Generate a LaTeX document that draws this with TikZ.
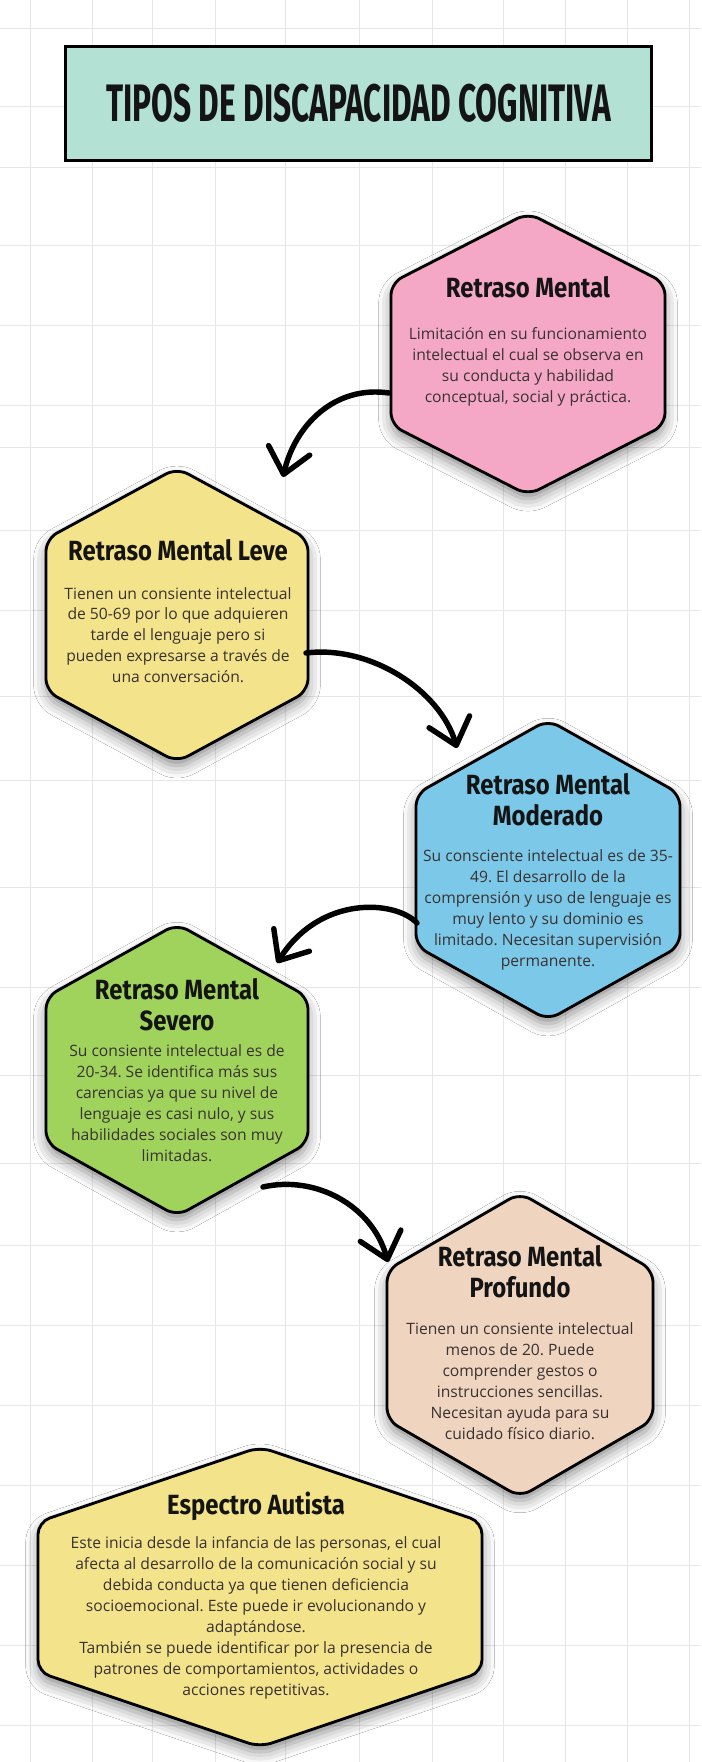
\documentclass[tikz,border=0pt]{standalone}
\usepackage{fontspec}
\setmainfont{Open Sans}
\newfontfamily\headfont[FakeStretch=0.86]{Fira Sans}
\newfontfamily\bannerfont[FakeStretch=0.6]{Fira Sans}
\usetikzlibrary{arrows.meta,shadows.blur}
\frenchspacing

\definecolor{mint}{HTML}{B3E1D3}
\definecolor{pinkhex}{HTML}{F5A8C5}
\definecolor{yellowhex}{HTML}{F3E38A}
\definecolor{bluehex}{HTML}{7BC8E8}
\definecolor{greenhex}{HTML}{A0D35C}
\definecolor{tanhex}{HTML}{EFD4BF}
\definecolor{gridgray}{HTML}{E6E6E6}
\definecolor{bodygray}{HTML}{3A3232}
\definecolor{inkblack}{HTML}{141414}

\tikzset{
  gridline/.style={draw=gridgray, line width=0.55pt},
  hexline/.style={draw=black, line width=1.6pt, rounded corners=7pt,
    blur shadow={shadow xshift=0pt, shadow yshift=-4pt,
      shadow blur radius=7pt, shadow opacity=45}},
  pics/hexcard/.style n args={4}{code={
    \path[hexline, fill=#4] (#1,0) -- (#1,#3) -- (0,#2) -- (-#1,#3)
      -- (-#1,-#3) -- (0,-#2) -- (#1,-#3) -- cycle;
  }},
  banner/.style={draw=black, line width=1.7pt, fill=mint,
    minimum width=11.72cm, minimum height=2.28cm, text=inkblack,
    font=\bannerfont\bfseries\fontsize{30}{33}\selectfont},
  head/.style={text=inkblack, align=center,
    font=\headfont\bfseries\fontsize{15.8}{17.6}\selectfont},
  body/.style={text=bodygray, align=center,
    font=\fontsize{8.9}{11.9}\selectfont},
  curvy/.style={line width=3.1pt, line cap=round,
    -{Straight Barb[length=14pt,width=24pt,round]}},
}

\begin{document}
\begin{tikzpicture}[x=0.02cm,y=-0.02cm]
  \useasboundingbox (0,0) rectangle (701,1762);
  \fill[white] (0,0) rectangle (701,1762);
  % notebook grid
  \foreach \gx in {30,92,152,215,285,359,432,503,565,627,689}
    \draw[gridline] (\gx,0) -- (\gx,1762);
  \foreach \gy in {28,106,167,245,325,405,447,530,610,696,780,887,987,1075,1163,1245,1325,1405,1485,1565,1645,1725}
    \draw[gridline] (0,\gy) -- (701,\gy);

  \node (banner) [banner] at (358.5,103.5) {TIPOS DE DISCAPACIDAD COGNITIVA};

  % hexagons
  \pic at (528,354) {hexcard={137}{141}{71}{pinkhex}};
  \pic at (177,615) {hexcard={131}{147}{76}{yellowhex}};
  \pic at (548,870) {hexcard={132}{150}{76}{bluehex}};
  \pic at (177,1070) {hexcard={131}{146}{73}{greenhex}};
  \pic at (520,1345) {hexcard={133}{152}{75}{tanhex}};
  \pic at (260,1597) {hexcard={222}{150}{75}{yellowhex}};

  % texts
  \node (rmhead) [head] at (528,287) {Retraso Mental};
  \node (rmtxt) [body, below of=rmhead, node distance=1.6cm]
    {Limitación en su funcionamiento\\ intelectual el cual se observa en\\
     su conducta y habilidad\\ conceptual, social y práctica.};

  \node (levehead) [head] at (178,550) {Retraso Mental Leve};
  \node (levetxt) [body, below of=levehead, node distance=1.7cm]
    {Tienen un consiente intelectual\\ de 50-69 por lo que adquieren\\
     tarde el lenguaje pero si\\ pueden expresarse a través de\\ una conversación.};

  \node (modhead) [head] at (548,800) {Retraso Mental\\ Moderado};
  \node (modtxt) [body, below of=modhead, node distance=2.2cm]
    {Su consciente intelectual es de 35-\\ 49. El desarrollo de la\\
     comprensión y uso de lenguaje es\\ muy lento y su dominio es\\
     limitado. Necesitan supervisión\\ permanente.};

  \node (sevhead) [head] at (177,1005) {Retraso Mental\\ Severo};
  \node (sevtxt) [body, below of=sevhead, node distance=1.96cm]
    {Su consiente intelectual es de\\ 20-34. Se identifica más sus\\
     carencias ya que su nivel de\\ lenguaje es casi nulo, y sus\\
     habilidades sociales son muy\\ limitadas.};

  \node (profhead) [head] at (520,1272) {Retraso Mental\\ Profundo};
  \node (proftxt) [body, below of=profhead, node distance=2.18cm]
    {Tienen un consiente intelectual\\ menos de 20. Puede\\ comprender gestos o\\
     instrucciones sencillas.\\ Necesitan ayuda para su\\ cuidado físico diario.};

  \node (authead) [head] at (256,1506) {Espectro Autista};
  \node (auttxt) [body, below of=authead, node distance=2.24cm]
    {Este inicia desde la infancia de las personas, el cual\\
     afecta al desarrollo de la comunicación social y su\\
     debida conducta ya que tienen deficiencia\\
     socioemocional. Este puede ir evolucionando y\\ adaptándose.\\
     También se puede identificar por la presencia de\\
     patrones de comportamientos, actividades o\\ acciones repetitivas.};

  % arrows between the cards
  \coordinate (rm-out) at (389,393);
  \coordinate (leve-in) at (283,477);
  \coordinate (leve-out) at (306,653);
  \coordinate (mod-in) at (457,748);
  \coordinate (mod-out) at (417,923);
  \coordinate (sev-in) at (277,963);
  \coordinate (sev-out) at (263,1187);
  \coordinate (prof-in) at (388,1262);
  \draw[curvy] (rm-out) .. controls (335,385) and (295,425) .. (leve-in);
  \draw[curvy] (leve-out) .. controls (370,645) and (440,690) .. (mod-in);
  \draw[curvy] (mod-out) .. controls (395,900) and (320,895) .. (sev-in);
  \draw[curvy] (sev-out) .. controls (315,1175) and (372,1205) .. (prof-in);
\end{tikzpicture}
\end{document}
